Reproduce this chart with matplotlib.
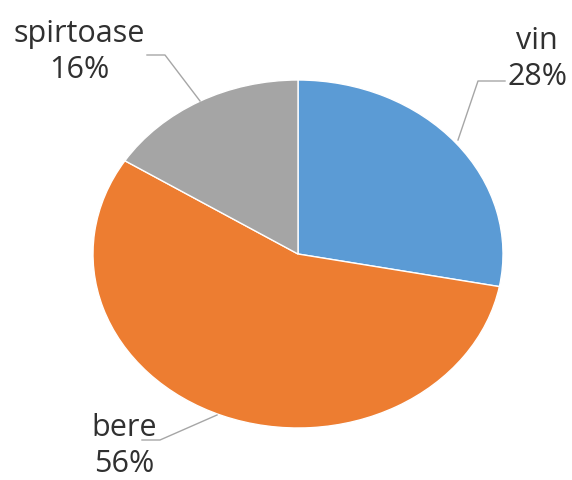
import matplotlib
matplotlib.use("Agg")
import matplotlib.pyplot as plt

categories = ["vin", "bere", "spirtoase"]
values = [28, 56, 16]
colors = ["#5B9BD5", "#ED7D31", "#A5A5A5"]

# layout (pixel-based placement)
cx, cy, rx, ry = 298, 254, 205, 174
W, H = 572, 480

def px(x, y):
    return (x - cx) / rx, (cy - y) / ry

label_pos = {"vin": (537, 59), "bere": (124, 446), "spirtoase": (79, 52)}
leaders = {
    "vin": [(505, 81), (478, 81), (458, 140)],
    "bere": [(142, 440), (160, 440), (217, 415)],
    "spirtoase": [(147, 55), (165, 55), (200, 101)],
}

fig = plt.figure(figsize=(W / 100, H / 100), dpi=100)
ax = fig.add_axes([0, 0, 1, 1])
ax.pie(values, colors=colors, startangle=90, counterclock=False,
       wedgeprops=dict(edgecolor="white", linewidth=1))
ax.set_aspect("auto")
ax.set_xlim(-cx / rx, (W - cx) / rx)
ax.set_ylim((cy - H) / ry, cy / ry)
ax.axis("off")

total = sum(values)
for cat, v in zip(categories, values):
    x, y = px(*label_pos[cat])
    ax.text(x, y, f"{cat}\n{round(100 * v / total)}%", ha="center", va="center",
            fontsize=22, family="Open Sans", color="#303030", linespacing=1.3)
    pts = [px(a, b) for a, b in leaders[cat]]
    ax.plot([p[0] for p in pts], [p[1] for p in pts], color="#A6A6A6", lw=1)

fig.savefig("out.png", dpi=100)
